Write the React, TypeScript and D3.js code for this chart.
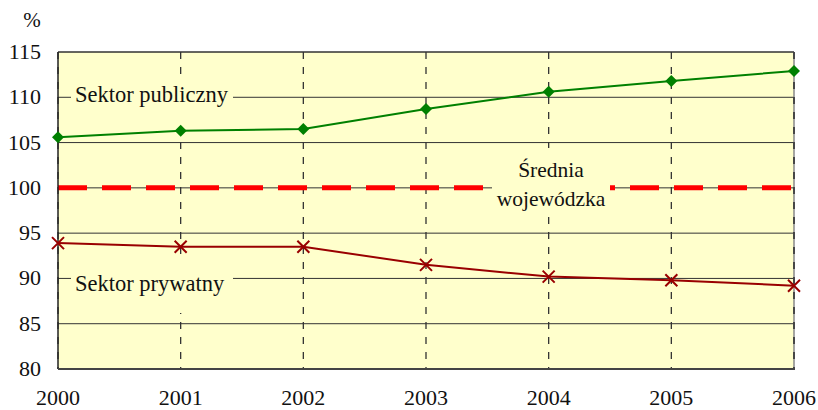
import React from "react";
import * as d3 from "d3";

const years = [2000, 2001, 2002, 2003, 2004, 2005, 2006];
const sektorPubliczny = [105.6, 106.3, 106.5, 108.7, 110.6, 111.8, 112.9];
const sektorPrywatny = [93.9, 93.5, 93.5, 91.5, 90.2, 89.8, 89.2];
const sredniaValue = 100;
const yTicks = [80, 85, 90, 95, 100, 105, 110, 115];

const W = 818;
const H = 410;
const left = 58;
const right = 794;
const top = 52;
const bottom = 369;
const FONT = "Liberation Serif";

export default function App() {
  const x = d3.scaleLinear().domain([2000, 2006]).range([left, right]);
  const y = d3.scaleLinear().domain([80, 115]).range([bottom, top]);
  const line = d3
    .line<number>()
    .x((_, i) => x(years[i]))
    .y((d) => y(d));

  const boxes = [
    { x0: 71, x1: 233, y0: 76, y1: 120 },
    { x0: 71, x1: 233, y0: 262, y1: 313 },
    { x0: 492, x1: 610, y0: 148, y1: 217 },
  ];

  return (
    <svg
      width={W}
      height={H}
      style={{ position: "absolute", left: 0, top: 0, display: "block" }}
    >
      <rect x={0} y={0} width={W} height={H} fill="#fff" />
      <rect x={left} y={top} width={right - left} height={bottom - top} fill="#FFFFCC" />
      {yTicks.map((t) => (
        <line key={"h" + t} x1={left} x2={right} y1={y(t)} y2={y(t)} stroke="#333" strokeWidth={1} />
      ))}
      {years.map((yr) => (
        <line
          key={"v" + yr}
          x1={x(yr)}
          x2={x(yr)}
          y1={top}
          y2={bottom}
          stroke="#333"
          strokeWidth={1.3}
          strokeDasharray="7,8"
        />
      ))}
      <line
        x1={left}
        x2={right}
        y1={y(sredniaValue)}
        y2={y(sredniaValue)}
        stroke="#FF0000"
        strokeWidth={5}
        strokeDasharray="29,15"
      />
      {boxes.map((b, i) => (
        <rect key={"b" + i} x={b.x0} y={b.y0} width={b.x1 - b.x0} height={b.y1 - b.y0} fill="#FFFFCC" />
      ))}
      <line x1={left} x2={right} y1={top} y2={top} stroke="#333" strokeWidth={1} />
      <line x1={left} x2={left} y1={top} y2={bottom} stroke="#222" strokeWidth={1.5} />
      <line x1={right} x2={right} y1={top} y2={bottom} stroke="#888" strokeWidth={1.5} />
      <line
        x1={right}
        x2={right}
        y1={top}
        y2={bottom}
        stroke="#333"
        strokeWidth={1.5}
        strokeDasharray="7,8"
      />
      <line x1={left} x2={right + 1} y1={bottom} y2={bottom} stroke="#444" strokeWidth={2} />
      <path d={line(sektorPubliczny) || ""} fill="none" stroke="#008000" strokeWidth={2} />
      {sektorPubliczny.map((v, i) => {
        const cx = x(years[i]);
        const cy = y(v);
        const r = 6;
        return (
          <path
            key={"g" + i}
            d={`M${cx},${cy - r}L${cx + r},${cy}L${cx},${cy + r}L${cx - r},${cy}Z`}
            fill="#008000"
          />
        );
      })}
      <path d={line(sektorPrywatny) || ""} fill="none" stroke="#990000" strokeWidth={2} />
      {sektorPrywatny.map((v, i) => {
        const cx = x(years[i]);
        const cy = y(v);
        const r = 6;
        return (
          <path
            key={"r" + i}
            d={`M${cx - r},${cy - r}L${cx + r},${cy + r}M${cx - r},${cy + r}L${cx + r},${cy - r}`}
            stroke="#990000"
            strokeWidth={2}
            fill="none"
          />
        );
      })}
      {yTicks.map((t) => (
        <text
          key={"yl" + t}
          x={41}
          y={y(t) + 7}
          textAnchor="end"
          fontFamily={FONT}
          fontSize={22}
          fill="#111"
        >
          {t}
        </text>
      ))}
      <text x={32} y={27} textAnchor="middle" fontFamily={FONT} fontSize={21} fill="#111">
        %
      </text>
      {years.map((yr) => (
        <text
          key={"xl" + yr}
          x={x(yr)}
          y={405}
          textAnchor="middle"
          fontFamily={FONT}
          fontSize={22}
          fill="#111"
        >
          {yr}
        </text>
      ))}
      <text x={75} y={102} fontFamily={FONT} fontSize={22.5} fill="#111">
        Sektor publiczny
      </text>
      <text x={75} y={291} fontFamily={FONT} fontSize={22.5} fill="#111">
        Sektor prywatny
      </text>
      <text x={551} y={177} textAnchor="middle" fontFamily={FONT} fontSize={21.5} fill="#111">
        Średnia
      </text>
      <text x={551} y={206} textAnchor="middle" fontFamily={FONT} fontSize={21.5} fill="#111">
        wojewódzka
      </text>
    </svg>
  );
}
